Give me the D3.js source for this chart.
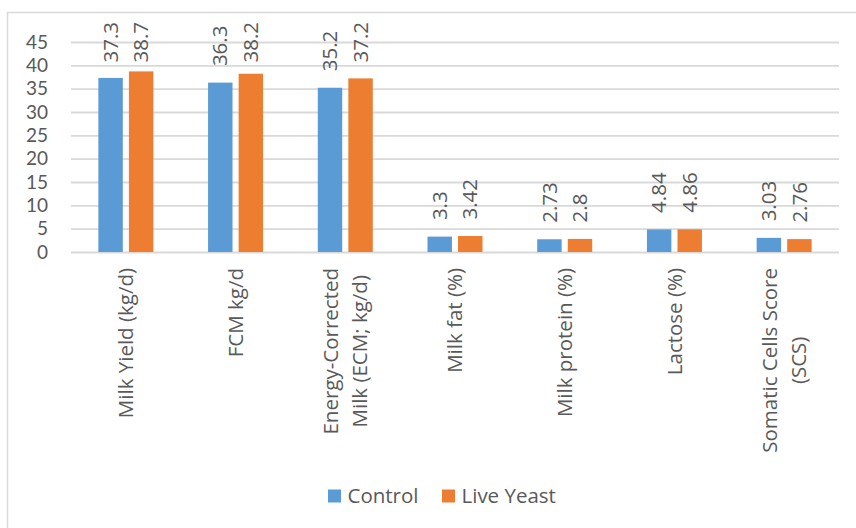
<!DOCTYPE html>
<html>
<head>
<meta charset="utf-8">
<script src="https://cdn.jsdelivr.net/npm/d3@7"></script>
<style>
  html, body { margin: 0; padding: 0; background: #ffffff; }
  svg { display: block; font-family: "Open Sans", "Noto Sans", sans-serif; }
</style>
</head>
<body>
<svg id="chart" width="856" height="528"></svg>
<script>
// Milk production and composition, Control vs Live Yeast
const categories = [
  "Milk Yield (kg/d)",
  "FCM kg/d",
  "Energy-Corrected\nMilk (ECM; kg/d)",
  "Milk fat (%)",
  "Milk protein (%)",
  "Lactose (%)",
  "Somatic Cells Score\n(SCS)"
];
const seriesNames = ["Control", "Live Yeast"];
const controlValues = [37.3, 36.3, 35.2, 3.3, 2.73, 4.84, 3.03];
const liveYeastValues = [38.7, 38.2, 37.2, 3.42, 2.8, 4.86, 2.76];
const yTicks = [0, 5, 10, 15, 20, 25, 30, 35, 40, 45];

const colors = { "Control": "#5B9BD5", "Live Yeast": "#ED7D31" };
const textColor = "#595959";
const gridColor = "#D9D9D9";

const svg = d3.select("#chart");

// outer chart frame
svg.append("rect")
  .attr("x", 7.5).attr("y", 12.5)
  .attr("width", 900).attr("height", 600)
  .attr("fill", "none")
  .attr("stroke", gridColor)
  .attr("stroke-width", 1.5);

const plot = { left: 71, right: 839, top: 42, bottom: 252 };

const x0 = d3.scaleBand()
  .domain(categories)
  .range([plot.left, plot.right])
  .paddingInner(0.4987)
  .paddingOuter(0.4987 / 2);

const x1 = d3.scaleBand()
  .domain(seriesNames)
  .range([0, x0.bandwidth()])
  .paddingInner(0.2);

const y = d3.scaleLinear()
  .domain([0, 45])
  .range([plot.bottom, plot.top]);

// horizontal gridlines and value axis labels
const yAxis = d3.axisLeft(y)
  .tickValues(yTicks)
  .tickSize(-(plot.right - plot.left))
  .tickPadding(23)
  .tickFormat(d3.format("d"));

const gy = svg.append("g")
  .attr("transform", `translate(${plot.left},0)`)
  .call(yAxis);
gy.select(".domain").remove();
gy.selectAll(".tick line")
  .attr("stroke", gridColor)
  .attr("stroke-width", 1.8);
gy.selectAll(".tick text")
  .attr("fill", textColor)
  .attr("font-size", 19)
  .attr("font-family", "Lato, 'Open Sans', sans-serif");

// bars
const rows = categories.map((c, i) => ({
  category: c,
  values: [
    { series: "Control", value: controlValues[i] },
    { series: "Live Yeast", value: liveYeastValues[i] }
  ]
}));

const groups = svg.append("g")
  .selectAll("g")
  .data(rows)
  .join("g")
  .attr("transform", d => `translate(${x0(d.category)},0)`);

groups.selectAll("rect")
  .data(d => d.values)
  .join("rect")
  .attr("x", d => x1(d.series))
  .attr("y", d => y(d.value))
  .attr("width", x1.bandwidth())
  .attr("height", d => y(0) - y(d.value))
  .attr("fill", d => colors[d.series]);

// value labels, rotated, above each bar (kept inside the chart frame)
groups.selectAll("text.value")
  .data(d => d.values)
  .join("text")
  .attr("class", "value")
  .attr("transform", d => {
    const cx = x1(d.series) + x1.bandwidth() / 2;
    const cy = Math.max(y(d.value) - 16.5, 62.5);
    return `translate(${cx},${cy}) rotate(-90)`;
  })
  .attr("dy", "0.35em")
  .attr("text-anchor", "start")
  .attr("fill", textColor)
  .attr("font-size", 20.5)
  .text(d => String(d.value));

// category labels, rotated, centred under each group
const labelTop = 268;
const lineStep = 29;
const catLabels = svg.append("g")
  .selectAll("g")
  .data(categories)
  .join("g");

catLabels.each(function (c) {
  const g = d3.select(this);
  const lines = c.split("\n");
  const cx = x0(c) + x0.bandwidth() / 2;
  const texts = lines.map(line => g.append("text")
    .attr("fill", textColor)
    .attr("font-size", 20.5)
    .attr("text-anchor", "middle")
    .attr("dy", "0.35em")
    .text(line));
  const maxLen = d3.max(texts, t => t.node().getComputedTextLength());
  texts.forEach((t, k) => {
    const lx = cx + (k - (lines.length - 1) / 2) * lineStep;
    const ly = labelTop + maxLen / 2;
    t.attr("transform", `translate(${lx},${ly}) rotate(-90)`);
  });
});

// legend
const legendItems = [
  { name: "Control", x: 328 },
  { name: "Live Yeast", x: 442 }
];
const legend = svg.append("g")
  .selectAll("g")
  .data(legendItems)
  .join("g")
  .attr("transform", d => `translate(${d.x},489.5)`);
legend.append("rect")
  .attr("width", 13).attr("height", 13)
  .attr("fill", d => colors[d.name]);
legend.append("text")
  .attr("x", 19.5)
  .attr("y", 6.5)
  .attr("dy", "0.35em")
  .attr("fill", textColor)
  .attr("font-size", 20.5)
  .text(d => d.name);
</script>
</body>
</html>
